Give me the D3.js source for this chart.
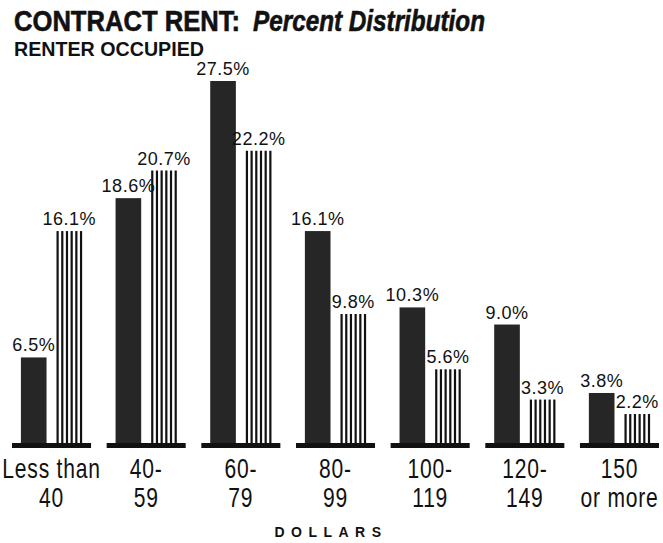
<!DOCTYPE html>
<html>
<head>
<meta charset="utf-8">
<script src="https://cdn.jsdelivr.net/npm/d3@7"></script>
<style>
    html, body { margin: 0; padding: 0; background: #fff; }
    svg { display: block; }
</style>
</head>
<body>
<svg id="chart" width="663" height="543"></svg>
<script>
// rent brackets, two lines per label
const categories = ['<40', '40-59', '60-79', '80-99', '100-119', '120-149', '150+'];
const tickLabels = [
    ['Less than', '40'],
    ['40-', '59'],
    ['60-', '79'],
    ['80-', '99'],
    ['100-', '119'],
    ['120-', '149'],
    ['150', 'or more']
];
const solidValues = [6.5, 18.6, 27.5, 16.1, 10.3, 9.0, 3.8];
const stripedValues = [16.1, 20.7, 22.2, 9.8, 5.6, 3.3, 2.2];
const seriesKeys = ['solid', 'striped'];

class RentChart {
    constructor(svg) {
        this.svg = svg;
        this.baseY = 443;

        this.x0 = d3.scaleBand()
            .domain(categories)
            .range([12, 659])
            .paddingInner(0.165)
            .paddingOuter(0);

        this.x1 = d3.scaleBand()
            .domain(seriesKeys)
            .range([0, this.x0.bandwidth()])
            .paddingInner(0.28)
            .paddingOuter(0.25);

        this.y = d3.scaleLinear()
            .domain([0, 27.5])
            .range([this.baseY, 81]);
    }

    render() {
        this._renderTitles();
        this._renderGroups();
        this._renderAxisLabels();
    }

    _renderTitles() {
        const titleText = (x, len, style, str) => this.svg.append('text')
            .attr('x', x)
            .attr('y', 31)
            .attr('font-family', 'Liberation Sans, Arial, sans-serif')
            .attr('font-weight', 'bold')
            .attr('font-style', style)
            .attr('font-size', 29)
            .attr('fill', '#111')
            .attr('stroke', '#111')
            .attr('stroke-width', 0.6)
            .attr('textLength', len)
            .attr('lengthAdjust', 'spacingAndGlyphs')
            .text(str);
        titleText(14, 226, 'normal', 'CONTRACT RENT:');
        titleText(253, 232, 'italic', 'Percent Distribution');

        this.svg.append('text')
            .attr('x', 14)
            .attr('y', 56)
            .attr('font-family', 'Liberation Sans, Arial, sans-serif')
            .attr('font-weight', 'bold')
            .attr('font-size', 20)
            .attr('fill', '#111')
            .attr('textLength', 190)
            .attr('lengthAdjust', 'spacingAndGlyphs')
            .text('RENTER OCCUPIED');
    }

    _renderGroups() {
        const { x0, x1, y, baseY } = this;
        const rows = categories.map((cat, i) => ({
            cat,
            solid: solidValues[i],
            striped: stripedValues[i]
        }));

        const groups = this.svg.append('g').attr('class', 'groups')
            .selectAll('g')
            .data(rows)
            .enter().append('g')
            .attr('transform', d => `translate(${x0(d.cat)},0)`);

        // dark bars
        groups.append('rect')
            .attr('x', x1('solid'))
            .attr('y', d => y(d.solid))
            .attr('width', x1.bandwidth())
            .attr('height', d => baseY - y(d.solid))
            .attr('fill', '#262626');

        // vertical hatched bars, drawn as separate strokes
        const lineCount = 6;
        const lineW = 2.2;
        const step = (x1.bandwidth() - lineW) / (lineCount - 1);
        groups.each(function (d) {
            d3.select(this).append('g')
                .selectAll('rect')
                .data(d3.range(lineCount))
                .enter().append('rect')
                .attr('x', k => x1('striped') + k * step)
                .attr('y', y(d.striped))
                .attr('width', lineW)
                .attr('height', baseY - y(d.striped))
                .attr('fill', '#111');
        });

        // little base slab under each pair
        groups.append('rect')
            .attr('x', 0)
            .attr('y', baseY)
            .attr('width', x0.bandwidth())
            .attr('height', 5)
            .attr('fill', '#111');

        const labelFor = (key) => groups.append('text')
            .attr('x', x1(key) + x1.bandwidth() / 2)
            .attr('y', d => y(d[key]) - 6)
            .attr('text-anchor', 'middle')
            .attr('font-family', 'Liberation Sans, Arial, sans-serif')
            .attr('font-size', 18)
            .attr('letter-spacing', 0.5)
            .attr('fill', '#111')
            .text(d => d3.format('.1f')(d[key]) + '%');
        labelFor('solid');
        labelFor('striped');
    }

    _renderAxisLabels() {
        const { x0 } = this;
        const ticks = this.svg.append('g').attr('class', 'ticks')
            .selectAll('g')
            .data(categories)
            .enter().append('g')
            .attr('transform', d => `translate(${x0(d) + x0.bandwidth() / 2},0)`);

        [478, 507].forEach((lineY, line) => {
            ticks.append('text')
                .attr('transform', `translate(0,${lineY}) scale(0.78,1)`)
                .attr('text-anchor', 'middle')
                .attr('font-family', 'Liberation Sans, Arial, sans-serif')
                .attr('font-size', 27)
                .attr('letter-spacing', 1)
                .attr('fill', '#111')
                .text((d, i) => tickLabels[i][line]);
        });

        this.svg.append('text')
            .attr('x', 331)
            .attr('y', 537)
            .attr('text-anchor', 'middle')
            .attr('font-family', 'Liberation Sans, Arial, sans-serif')
            .attr('font-weight', 'bold')
            .attr('font-size', 14)
            .attr('letter-spacing', 6.5)
            .attr('fill', '#111')
            .text('DOLLARS');
    }
}

new RentChart(d3.select('#chart')).render();
</script>
</body>
</html>
